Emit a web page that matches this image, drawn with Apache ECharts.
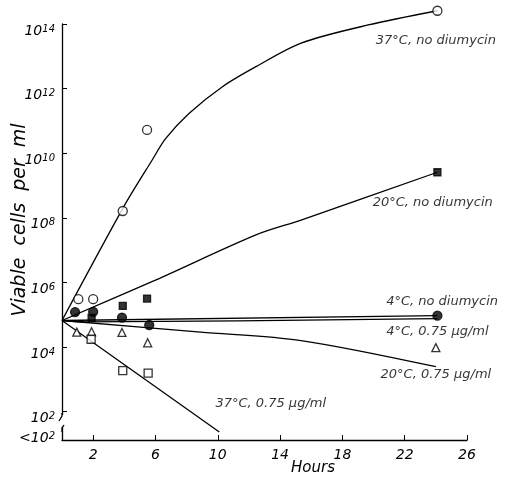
<!DOCTYPE html>
<html>
<head>
<meta charset="utf-8">
<script src="https://cdn.jsdelivr.net/npm/echarts@6/dist/echarts.min.js"></script>
<style>
  html, body { margin: 0; padding: 0; background: #fff; }
  #container { width: 506px; height: 477px; }
</style>
</head>
<body>
<div id="container"></div>
<script>
// hours on x, log10(viable cells per ml) on y
var hourTicks = [2, 6, 10, 14, 18, 22, 26];
var logTicks = [2, 4, 6, 8, 10, 12, 14];
var belowLimit = 1.4; // "<10^2" row

// fitted curves
var curve37 = [[0, 4.82], [3.96, 8.34], [5.79, 9.79], [6.65, 10.45], [8.15, 11.23], [10.3, 12.06], [12.45, 12.68], [15.35, 13.41], [19.66, 13.97], [24.1, 14.41]];
var curve20 = [[0, 4.82], [6, 6.07], [12.45, 7.47], [15.35, 7.93], [24.1, 9.41]];
var curve4 = [[0, 4.82], [24.1, 4.97]];
var curve4drug = [[0, 4.82], [1.5, 4.78], [24.1, 4.88]];
var curve20drug = [[0, 4.82], [8.9, 4.46], [15.35, 4.2], [24, 3.39]];
var curve37drug = [[0, 4.82], [10.1, 1.37]];

// measured points
var pts37 = [[1.05, 5.48], [2.0, 5.48], [3.9, 8.21], [5.46, 10.72], [24.1, 14.41]];
var pts20 = [[1.9, 4.9], [3.9, 5.27], [5.46, 5.5], [24.1, 9.41]];
var pts4 = [[0.84, 5.08], [2.0, 5.09], [3.85, 4.91], [5.6, 4.68], [24.1, 4.97]];
var ptsTri = [[0.95, 4.46], [1.9, 4.47], [3.85, 4.45], [5.5, 4.13], [24, 3.98]];
var ptsSq = [[1.87, 4.24], [3.9, 3.27], [5.53, 3.19]];

var labels = [
	{ name: '37°C, no diumycin', value: [24.0, 13.5] },
	{ name: '20°C, no diumycin', value: [23.8, 8.46] },
	{ name: '4°C, no diumycin', value: [24.4, 5.39] },
	{ name: '4°C, 0.75 μg/ml', value: [24.1, 4.47] },
	{ name: '20°C, 0.75 μg/ml', value: [24.0, 3.13] },
	{ name: '37°C, 0.75 μg/ml', value: [13.4, 2.24] }
];

var font = 'DejaVu Sans';
var dom = document.getElementById('container');
var myChart = echarts.init(dom);

function lineSeries(data) {
	return {
		type: 'line',
		data: data,
		smooth: 0.3,
		showSymbol: false,
		clip: false,
		silent: true,
		lineStyle: { color: '#000', width: 1.3 },
		z: 2
	};
}

function pointSeries(data, symbol, size, filled) {
	return {
		type: 'scatter',
		data: data,
		symbol: symbol,
		symbolSize: size,
		clip: false,
		itemStyle: {
			color: filled ? '#000' : '#fff',
			borderColor: '#000',
			borderWidth: 1.3
		},
		z: 3
	};
}

var option = {
	backgroundColor: '#fff',
	animation: false,
	grid: { left: 62, right: 39, top: 24, bottom: 37, containLabel: false, outerBoundsMode: 'none' },
	xAxis: {
		type: 'value',
		min: 0,
		max: 26,
		name: 'Hours',
		nameLocation: 'middle',
		nameGap: 21,
		nameMoveOverlap: false,
		nameTextStyle: { fontFamily: font, fontStyle: 'italic', fontSize: 15, color: '#000', padding: [0, 0, 0, 97] },
		axisLine: { lineStyle: { color: '#000', width: 1.3 } },
		axisTick: { inside: true, length: 5, customValues: hourTicks, lineStyle: { color: '#000' } },
		axisLabel: { customValues: hourTicks, fontFamily: font, fontStyle: 'italic', fontSize: 14, color: '#000', margin: 8 },
		splitLine: { show: false }
	},
	yAxis: {
		type: 'value',
		min: 1.12,
		max: 14,
		name: 'Viable  cells  per  ml',
		nameLocation: 'middle',
		nameGap: 32,
		nameMoveOverlap: false,
		nameTextStyle: { fontFamily: font, fontStyle: 'italic', fontSize: 19, color: '#000', padding: [0, 0, 0, 24] },
		axisLine: { lineStyle: { color: '#000', width: 1.3 } },
		axisTick: { inside: true, length: 5, customValues: logTicks, lineStyle: { color: '#000' } },
		axisLabel: {
			customValues: [belowLimit].concat(logTicks),
			margin: 7,
			hideOverlap: false,
			verticalAlign: 'top',
			formatter: function (v) {
				if (v < 2) return '{b|<10}{s|2}';
				return '{b|10}{s|' + Math.round(v) + '}';
			},
			rich: {
				b: { fontFamily: font, fontStyle: 'italic', fontSize: 14, color: '#000', lineHeight: 14, verticalAlign: 'bottom' },
				s: { fontFamily: font, fontStyle: 'italic', fontSize: 10, color: '#000', lineHeight: 14, verticalAlign: 'top' }
			}
		},
		splitLine: { show: false }
	},
	graphic: [
		{ type: 'rect', shape: { x: 55, y: 415, width: 12, height: 12 }, style: { fill: '#fff' }, z: 100 },
		{ type: 'polyline', shape: { points: [[62, 413], [62, 416], [59, 421]] }, style: { stroke: '#000', lineWidth: 1.3, fill: null }, z: 101 },
		{ type: 'polyline', shape: { points: [[64, 425], [62, 428], [62, 432]] }, style: { stroke: '#000', lineWidth: 1.3, fill: null }, z: 101 }
	],
	series: [
		lineSeries(curve37),
		lineSeries(curve20),
		lineSeries(curve4),
		lineSeries(curve4drug),
		lineSeries(curve20drug),
		lineSeries(curve37drug),
		pointSeries(pts37, 'circle', 9, false),
		pointSeries(pts20, 'rect', 7, true),
		pointSeries(pts4, 'circle', 9, true),
		pointSeries(ptsTri, 'triangle', 8, false),
		pointSeries(ptsSq, 'rect', 8, false),
		{
			type: 'scatter',
			data: labels,
			symbolSize: 0,
			clip: false,
			silent: true,
			label: {
				show: true,
				position: 'inside',
				formatter: '{b}',
				fontFamily: font,
				fontStyle: 'italic',
				fontSize: 13,
				color: '#000'
			},
			z: 4
		}
	]
};

myChart.setOption(option);
</script>
</body>
</html>
